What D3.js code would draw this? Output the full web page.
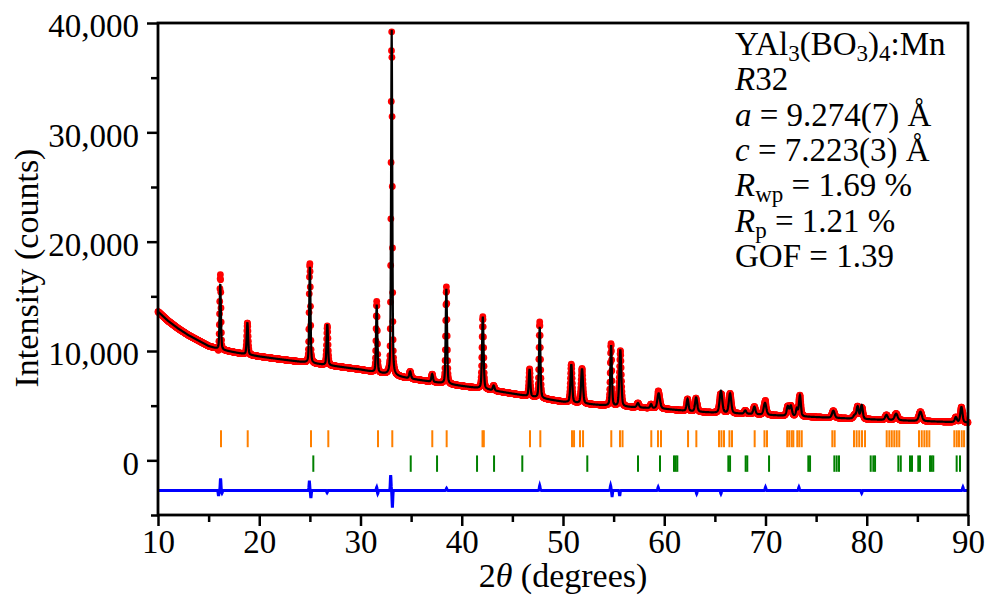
<!DOCTYPE html>
<html lang="en">
<head>
    <meta charset="UTF-8">
    <title>YAl3(BO3)4:Mn Rietveld refinement</title>
    <style>
        html, body {
            margin: 0;
            padding: 0;
            background-color: #ffffff;
        }
        svg text {
            font-family: "Liberation Serif", "Times New Roman", Tinos, "DejaVu Serif", serif;
            fill: #000000;
        }
    </style>
</head>
<body>
    <div id="graph"></div>
    <script src="https://d3js.org/d3.v7.min.js"></script>
    <script>
        // background (2theta, counts)
        const bgAngles = [10, 11, 12, 13, 14, 15, 16, 18, 20, 22, 25, 28, 30, 32, 35, 38, 40, 42, 45, 48, 50, 53, 55, 58, 60, 63, 65, 68, 70, 75, 80, 85, 90];
        const bgCounts = [13600, 12750, 12050, 11450, 10950, 10450, 10150, 9800, 9500, 9250, 8900, 8550, 8300, 7950, 7450, 7050, 6800, 6550, 6100, 5650, 5350, 5100, 4950, 4800, 4700, 4450, 4350, 4250, 4150, 3950, 3750, 3600, 3450];

        // peaks: position (deg), net height (counts), fwhm (deg)
        const peakPos = [16.15, 18.83, 25.0, 26.72, 31.6, 33.08, 34.9, 37.08, 38.48, 42.08, 43.15, 46.7, 47.7, 50.82, 51.88, 54.75, 55.66, 57.4, 58.7, 59.45, 62.3, 63.15, 65.6, 66.5, 68.0, 68.9, 69.95, 72.2, 72.5, 73.1, 73.4, 76.7, 78.8, 79.1, 79.5, 81.95, 82.9, 85.3, 88.8, 89.35];
        const peakHeight = [6000, 2900, 8800, 3750, 6200, 31600, 650, 700, 8700, 6600, 450, 2500, 6500, 3500, 3200, 5500, 5200, 400, 350, 1400, 1100, 1300, 2000, 1800, 300, 700, 1100, 850, 900, 700, 1900, 650, 300, 1100, 1250, 450, 600, 850, 450, 1400];
        const peakFwhm = [0.15, 0.16, 0.15, 0.16, 0.15, 0.14, 0.2, 0.18, 0.16, 0.18, 0.2, 0.17, 0.17, 0.2, 0.22, 0.18, 0.22, 0.25, 0.2, 0.3, 0.22, 0.25, 0.3, 0.28, 0.25, 0.25, 0.3, 0.25, 0.25, 0.2, 0.22, 0.3, 0.3, 0.25, 0.25, 0.3, 0.35, 0.35, 0.25, 0.25];

        // difference curve
        const diffBase = -2750;
        const diffPos = [15.98, 16.18, 16.32, 24.95, 25.1, 26.7, 31.6, 31.7, 32.98, 33.15, 38.5, 47.7, 54.7, 54.85, 55.6, 59.4, 63.2, 65.6, 70.0, 73.3, 79.5, 89.5];
        const diffAmp = [-500, 1100, -250, 800, -700, -200, 300, -300, 1400, -1500, 200, 450, 450, -500, -500, 300, -300, -300, 300, 300, -250, 300];

        // reflection markers
        const phase1Ticks = [16.22, 18.86, 25.11, 26.82, 31.73, 33.14, 37.09, 38.51, 42.05, 42.18, 46.74, 47.76, 50.89, 51.09, 51.68, 51.98, 54.77, 55.63, 55.88, 58.72, 59.38, 59.68, 62.35, 63.17, 65.41, 65.65, 65.9, 66.44, 66.69, 68.93, 69.9, 70.15, 72.15, 72.35, 72.59, 72.75, 73.14, 73.34, 73.58, 76.6, 76.83, 78.74, 79.0, 79.26, 79.53, 79.83, 81.97, 82.23, 82.47, 82.72, 82.96, 83.21, 85.16, 85.43, 85.69, 85.93, 86.18, 88.65, 88.89, 89.11, 89.38, 89.61];
        const phase2Ticks = [25.34, 34.96, 37.56, 41.51, 43.19, 45.98, 52.4, 57.41, 59.58, 60.96, 61.13, 61.29, 66.33, 66.5, 68.04, 68.2, 70.35, 74.23, 74.4, 76.8, 77.03, 77.26, 80.39, 80.65, 80.82, 83.12, 83.36, 84.27, 84.47, 85.09, 85.26, 86.25, 86.41, 86.57, 88.88, 89.21];

        const xTicks = [10, 20, 30, 40, 50, 60, 70, 80, 90];
        const xMinor = [15, 25, 35, 45, 55, 65, 75, 85];
        const yTicks = [0, 10000, 20000, 30000, 40000];
        const yMinor = [-5000, 5000, 15000, 25000, 35000];

        const width = 987, height = 597;
        const margin = {top: 23, left: 158, bottom: 82, right: 19};
        const serif = '"Liberation Serif", "Times New Roman", Tinos, "DejaVu Serif", serif';

        const svg = d3.select("#graph")
            .append("svg")
            .attr("width", width)
            .attr("height", height)
            .attr("font-family", serif);

        const x = d3.scaleLinear().domain([10, 90]).range([margin.left, width - margin.right]);
        const y = d3.scaleLinear().domain([-5000, 40000]).range([height - margin.bottom, margin.top]);
        const bg = d3.scaleLinear().domain(bgAngles).range(bgCounts);

        // pseudo-voigt sum over the peak list
        function calc(t) {
            let s = bg(t);
            for (let i = 0; i < peakPos.length; i++) {
                const u = (t - peakPos[i]) / peakFwhm[i];
                const g = Math.exp(-4 * Math.LN2 * u * u);
                const l = 1 / (1 + 4 * u * u);
                s += peakHeight[i] * (0.35 * l + 0.65 * g);
            }
            return s;
        }
        function diff(t) {
            let s = 0;
            for (let i = 0; i < diffPos.length; i++) {
                const u = (t - diffPos[i]) / 0.05;
                s += diffAmp[i] * Math.exp(-u * u);
            }
            return s;
        }

        const steps = d3.range(10, 90.0001, 0.02);
        const pattern = steps.map(t => {
            const c = calc(t), d = diff(t);
            return {t: t, calc: c, obs: c + d, diff: diffBase + d};
        });

        // OBSERVED POINTS
        svg.append("g")
            .selectAll("circle")
            .data(pattern).enter()
            .append("circle")
            .attr("cx", d => x(d.t))
            .attr("cy", d => y(d.obs))
            .attr("r", 3.4)
            .style("fill", "#ff0000");

        // CALCULATED
        svg.append("path")
            .datum(pattern)
            .attr("d", d3.line().x(d => x(d.t)).y(d => y(d.calc)))
            .style("fill", "none")
            .style("stroke", "#000000")
            .style("stroke-width", 2.2);

        // DIFFERENCE
        svg.append("path")
            .datum(pattern)
            .attr("d", d3.line().x(d => x(d.t)).y(d => y(d.diff)))
            .style("fill", "none")
            .style("stroke", "#0000ff")
            .style("stroke-width", 3);

        // REFLECTION MARKERS
        svg.append("g")
            .selectAll("line")
            .data(phase1Ticks).enter()
            .append("line")
            .attr("x1", d => x(d)).attr("x2", d => x(d))
            .attr("y1", y(2750)).attr("y2", y(1200))
            .style("stroke", "#ff8000")
            .style("stroke-width", 2);

        svg.append("g")
            .selectAll("line")
            .data(phase2Ticks).enter()
            .append("line")
            .attr("x1", d => x(d)).attr("x2", d => x(d))
            .attr("y1", y(450)).attr("y2", y(-1050))
            .style("stroke", "#008000")
            .style("stroke-width", 2);

        // AXES
        const fmt = d3.format(",");
        svg.append("g")
            .attr("transform", `translate(0, ${height - margin.bottom})`)
            .call(d3.axisBottom(x).tickValues(xTicks).tickSize(11).tickSizeOuter(0).tickPadding(4));
        svg.append("g")
            .attr("transform", `translate(0, ${height - margin.bottom})`)
            .call(d3.axisBottom(x).tickValues(xMinor).tickSize(7).tickSizeOuter(0).tickFormat(""));

        const yAxis = svg.append("g")
            .attr("transform", `translate(${margin.left}, 0)`)
            .call(d3.axisLeft(y).tickValues(yTicks).tickSize(11).tickSizeOuter(0).tickPadding(8).tickFormat(fmt));
        svg.append("g")
            .attr("transform", `translate(${margin.left}, 0)`)
            .call(d3.axisLeft(y).tickValues(yMinor).tickSize(7).tickSizeOuter(0).tickFormat(""));

        svg.selectAll(".domain").remove();
        svg.selectAll("g").attr("font-family", serif);
        svg.selectAll(".tick line").style("stroke", "#000").style("stroke-width", 2.5);
        svg.selectAll(".tick text").style("font-size", "33px").style("font-family", serif);
        yAxis.selectAll(".tick text").attr("dy", "0.42em");

        // FRAME
        svg.append("rect")
            .attr("x", margin.left)
            .attr("y", margin.top)
            .attr("width", width - margin.left - margin.right)
            .attr("height", height - margin.top - margin.bottom)
            .style("fill", "none")
            .style("stroke", "#000")
            .style("stroke-width", 2.8);

        // AXIS TITLES
        const xt = svg.append("text")
            .attr("x", (margin.left + width - margin.right) / 2)
            .attr("y", 587)
            .attr("text-anchor", "middle")
            .style("font-size", "34px");
        xt.append("tspan").text("2");
        xt.append("tspan").style("font-style", "italic").text("θ");
        xt.append("tspan").text(" (degrees)");

        svg.append("text")
            .attr("transform", "translate(38, 268) rotate(-90)")
            .attr("text-anchor", "middle")
            .style("font-size", "34px")
            .text("Intensity (counts)");

        // REFINEMENT INFO
        const info = [
            [["YAl", "n"], ["3", "s"], ["(BO", "n"], ["3", "s"], [")", "n"], ["4", "s"], [":Mn", "n"]],
            [["R", "i"], ["32", "n"]],
            [["a", "i"], [" = 9.274(7) Å", "n"]],
            [["c", "i"], [" = 7.223(3) Å", "n"]],
            [["R", "i"], ["wp", "s"], [" = 1.69 %", "n"]],
            [["R", "i"], ["p", "s"], [" = 1.21 %", "n"]],
            [["GOF = 1.39", "n"]]
        ];
        info.forEach((line, i) => {
            const t = svg.append("text")
                .attr("x", 735)
                .attr("y", 55 + i * 35.3)
                .style("font-size", "33px");
            let shifted = false;
            line.forEach(([str, kind]) => {
                const sp = t.append("tspan").text(str);
                if (kind === "i") sp.style("font-style", "italic");
                if (kind === "s") {
                    sp.style("font-size", "23px").attr("dy", shifted ? 0 : 6);
                    shifted = true;
                } else {
                    if (shifted) sp.attr("dy", -6);
                    shifted = false;
                }
            });
        });
    </script>
</body>
</html>
